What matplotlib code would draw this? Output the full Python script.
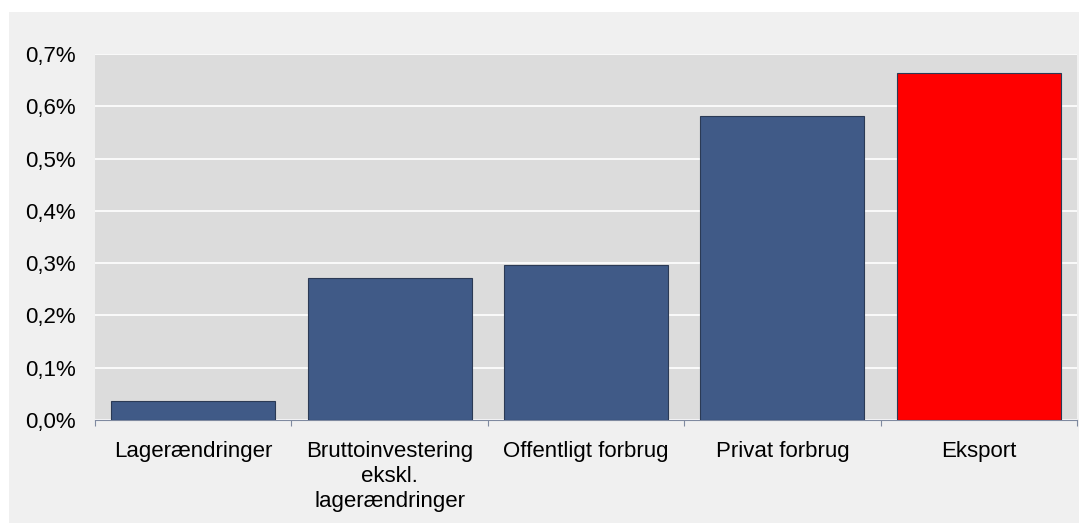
import matplotlib.pyplot as plt
import matplotlib.ticker as ticker
from matplotlib.patches import Rectangle

categories = ["Lagerændringer", "Bruttoinvestering\nekskl.\nlagerændringer",
              "Offentligt forbrug", "Privat forbrug", "Eksport"]
values = [0.037, 0.272, 0.297, 0.581, 0.663]
bar_colors = ["#405a87", "#405a87", "#405a87", "#405a87", "#ff0000"]
yticks = [0.0, 0.1, 0.2, 0.3, 0.4, 0.5, 0.6, 0.7]

plt.rcParams['font.family'] = ['Liberation Sans', 'DejaVu Sans']

W, H = 1079, 523
fig = plt.figure(figsize=(W / 100, H / 100), dpi=100)
fig.patch.set_facecolor("white")

# grå baggrund bag hele diagrammet
fig.patches.append(Rectangle((9 / W, 0), 1 - 9 / W, (H - 12) / H,
                             transform=fig.transFigure, facecolor="#f0f0f0",
                             edgecolor="none", zorder=-1))

ax = fig.add_axes([95 / W, (H - 420) / H, (1077 - 95) / W, (420 - 54) / H])
ax.set_zorder(1)
ax.set_facecolor("#dcdcdc")

x = range(len(categories))
ax.bar(x, values, width=0.835, color=bar_colors, edgecolor="#2b3a55",
       linewidth=0.8, zorder=3)

ax.set_xlim(-0.5, len(categories) - 0.5)
ax.set_ylim(0, 0.7)
ax.set_yticks(yticks)
ax.yaxis.set_major_formatter(ticker.FuncFormatter(lambda v, pos: f"{v:.1f}%".replace(".", ",")))
ax.yaxis.grid(True, color="white", linewidth=1.2, zorder=1)
ax.set_axisbelow(True)

# kategorinavne midt på, tickmarks mellem kategorierne
ax.set_xticks([i + 0.5 for i in range(-1, len(categories))])
ax.set_xticklabels([])
ax.set_xticks(list(x), minor=True)
ax.set_xticklabels(categories, minor=True, fontsize=16, linespacing=1.27)
ax.tick_params(axis="x", which="major", length=4, width=0.8, color="#7f8aa0", direction="out")
ax.tick_params(axis="x", which="minor", length=0, pad=15)
ax.tick_params(axis="y", length=0, pad=14, labelsize=16)

for s in ["top", "right", "left"]:
    ax.spines[s].set_visible(False)
ax.spines["bottom"].set_color("#7f8aa0")
ax.spines["bottom"].set_linewidth(0.8)

fig.savefig("out.png", dpi=100)
